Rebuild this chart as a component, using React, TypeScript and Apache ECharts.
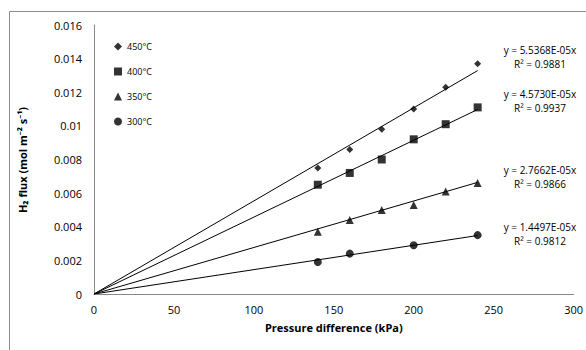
import React, { useEffect, useRef } from "react";
import * as echarts from "echarts";

const pressures = [140, 160, 180, 200, 220, 240];
const pressures300 = [140, 160, 200, 240];
const flux450 = [0.0075, 0.0086, 0.0098, 0.011, 0.0123, 0.0137];
const flux400 = [0.0065, 0.0072, 0.008, 0.0092, 0.0101, 0.0111];
const flux350 = [0.0037, 0.0044, 0.005, 0.0053, 0.0061, 0.0066];
const flux300 = [0.0019, 0.0024, 0.0029, 0.0035];
const seriesNames = ["450°C", "400°C", "350°C", "300°C"];
const slopes = [5.5368e-5, 4.573e-5, 2.7662e-5, 1.4497e-5];
const slopeLabels = ["5.5368E-05", "4.5730E-05", "2.7662E-05", "1.4497E-05"];
const r2Labels = ["0.9881", "0.9937", "0.9866", "0.9812"];
const trendEndX = 240;

export default function App() {
  const ref = useRef<HTMLDivElement>(null);
  useEffect(() => {
    if (!ref.current) return;
    const chart = echarts.init(ref.current, undefined, { renderer: "svg" });
    const font = "'Open Sans', 'Noto Sans', sans-serif";
    const symbols = ["diamond", "rect", "triangle", "circle"];
    const sizes = [7, 8, 8, 8];
    const xs = [pressures, pressures, pressures, pressures300];
    const ys = [flux450, flux400, flux350, flux300];
    const eqY = [50, 94, 170, 227];
    const series: any[] = [];
    seriesNames.forEach((n, i) => {
      series.push({
        name: n,
        type: "scatter",
        symbol: symbols[i],
        symbolSize: sizes[i],
        itemStyle: { color: "#000" },
        data: xs[i].map((x, j) => [x, ys[i][j]]),
        z: 3,
      });
      series.push({
        name: n + " trend",
        type: "line",
        symbol: "none",
        lineStyle: { color: "#000", width: 1 },
        data: [
          [0, 0],
          [trendEndX, slopes[i] * trendEndX],
        ],
        z: 2,
      });
    });
    const graphics: any[] = [
      {
        type: "rect",
        shape: { x: 9.5, y: 11.5, width: 700, height: 500 },
        style: { fill: "none", stroke: "#8c8c8c", lineWidth: 1 },
        silent: true,
      },
      {
        type: "text",
        x: 22,
        y: 160,
        rotation: Math.PI / 2,
        style: {
          text: "H₂ flux (mol m⁻² s⁻¹)",
          font: "bold 11px " + font,
          fill: "#000",
          align: "center",
          verticalAlign: "middle",
        },
      },
    ];
    slopeLabels.forEach((s, i) => {
      graphics.push({
        type: "text",
        x: 540,
        y: eqY[i],
        style: {
          text: "y = " + s + "x",
          font: "10px " + font,
          fill: "#000",
          align: "center",
          verticalAlign: "middle",
        },
      });
      graphics.push({
        type: "text",
        x: 540,
        y: eqY[i] + 14,
        style: {
          text: "R² = " + r2Labels[i],
          font: "10px " + font,
          fill: "#000",
          align: "center",
          verticalAlign: "middle",
        },
      });
    });
    chart.setOption({
      animation: false,
      backgroundColor: "#fff",
      grid: { left: 94, right: 8, top: 25, bottom: 56 },
      legend: {
        data: seriesNames,
        orient: "vertical",
        left: 109,
        top: 37,
        itemGap: 16,
        itemWidth: 8,
        itemHeight: 8,
        textStyle: { fontSize: 9, fontFamily: font, color: "#000" },
      },
      xAxis: {
        type: "value",
        min: 0,
        max: 300,
        interval: 50,
        name: "Pressure difference (kPa)",
        nameLocation: "middle",
        nameGap: 28,
        nameTextStyle: { fontWeight: "bold", fontSize: 11, fontFamily: font, color: "#000" },
        axisLine: { lineStyle: { color: "#888" } },
        axisTick: { show: false },
        splitLine: { show: false },
        axisLabel: { fontSize: 11, fontFamily: font, color: "#000", margin: 10 },
      },
      yAxis: {
        type: "value",
        min: 0,
        max: 0.016,
        interval: 0.002,
        axisLine: { show: true, lineStyle: { color: "#888" } },
        axisTick: { show: false },
        splitLine: { show: false },
        axisLabel: { fontSize: 11, fontFamily: font, color: "#000", margin: 12 },
      },
      series,
      graphic: graphics,
    });
    return () => chart.dispose();
  }, []);
  return <div ref={ref} style={{ width: 586, height: 350, position: "absolute", left: 0, top: 0 }} />;
}
